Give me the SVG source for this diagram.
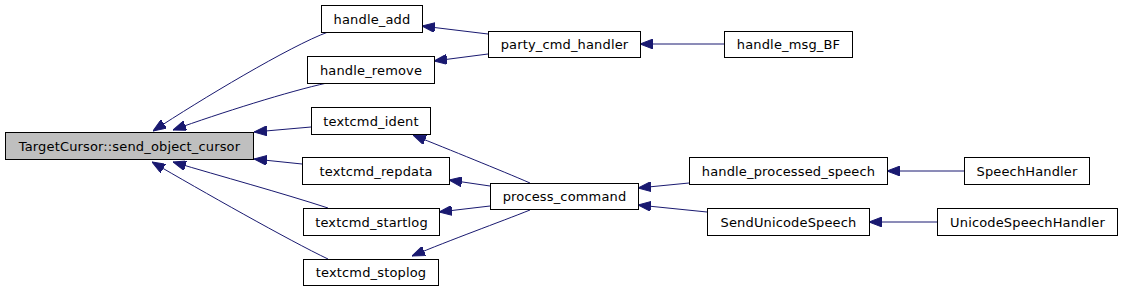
<svg xmlns="http://www.w3.org/2000/svg" width="1123" height="291" viewBox="0 0 1123 291">
<style>
.n rect{fill:#ffffff;stroke:#000000;stroke-width:1}
.n text{font-family:"DejaVu Sans",sans-serif;font-size:13px;letter-spacing:0.15px;text-anchor:middle;fill:#000000}
#n0 rect{fill:#bfbfbf}
.e path{fill:none;stroke:#191970;stroke-width:1;marker-end:url(#ah)}
</style>
<defs>
<marker id="ah" viewBox="0 0 13 10" refX="13" refY="5" markerWidth="13" markerHeight="10" markerUnits="userSpaceOnUse" orient="auto">
<path d="M0,0 L13,5 L0,10 z" fill="#191970" stroke="#191970" stroke-width="1"/>
</marker>
</defs>
<rect width="1123" height="291" fill="#ffffff"/>
<g id="edges" class="e">
<path d="M328,32 C290,46 200,100 153,131"/>
<path d="M327,83 C290,91 220,113 173,130"/>
<path d="M311,127 L254,132"/>
<path d="M302,164 L254,159"/>
<path d="M328,208 C282,193 220,176 173,162"/>
<path d="M328,259 C290,241 200,190 152,162"/>
<path d="M488,34 L422,26"/>
<path d="M488,54 L434,61"/>
<path d="M724,44 L640,44"/>
<path d="M530,183 C500,170 450,150 413,135"/>
<path d="M490,186 L449,180"/>
<path d="M490,206 L439,212"/>
<path d="M530,210 C500,222 450,240 412,256"/>
<path d="M689,183 L638,188"/>
<path d="M707,212 L638,205"/>
<path d="M964,171 L887,171"/>
<path d="M937,222 L869,222"/>
</g>
<g id="n0" class="n"><rect x="5.5" y="132.5" width="248" height="27"/><text x="129.5" y="150.5">TargetCursor::send_object_cursor</text></g>
<g id="n1" class="n"><rect x="321.5" y="5.5" width="101" height="27"/><text x="372" y="23.5">handle_add</text></g>
<g id="n2" class="n"><rect x="307.5" y="56.5" width="127" height="27"/><text x="371" y="74.5">handle_remove</text></g>
<g id="n3" class="n"><rect x="311.5" y="107.5" width="119" height="27"/><text x="371" y="125.5">textcmd_ident</text></g>
<g id="n4" class="n"><rect x="302.5" y="157.5" width="147" height="27"/><text x="376" y="175.5">textcmd_repdata</text></g>
<g id="n5" class="n"><rect x="303.5" y="208.5" width="136" height="27"/><text x="371.5" y="226.5">textcmd_startlog</text></g>
<g id="n6" class="n"><rect x="303.5" y="259.5" width="135" height="26"/><text x="371" y="277">textcmd_stoplog</text></g>
<g id="n7" class="n"><rect x="488.5" y="31.5" width="152" height="26"/><text x="564.5" y="49">party_cmd_handler</text></g>
<g id="n8" class="n"><rect x="724.5" y="31.5" width="128" height="26"/><text x="788.5" y="49">handle_msg_BF</text></g>
<g id="n9" class="n"><rect x="490.5" y="183.5" width="148" height="26"/><text x="564.5" y="201">process_command</text></g>
<g id="n10" class="n"><rect x="689.5" y="157.5" width="198" height="27"/><text x="788.5" y="175.5">handle_processed_speech</text></g>
<g id="n11" class="n"><rect x="707.5" y="208.5" width="162" height="27"/><text x="788.5" y="226.5">SendUnicodeSpeech</text></g>
<g id="n12" class="n"><rect x="964.5" y="157.5" width="125" height="27"/><text x="1027" y="175.5">SpeechHandler</text></g>
<g id="n13" class="n"><rect x="937.5" y="208.5" width="180" height="27"/><text x="1027.5" y="226.5">UnicodeSpeechHandler</text></g>
</svg>
